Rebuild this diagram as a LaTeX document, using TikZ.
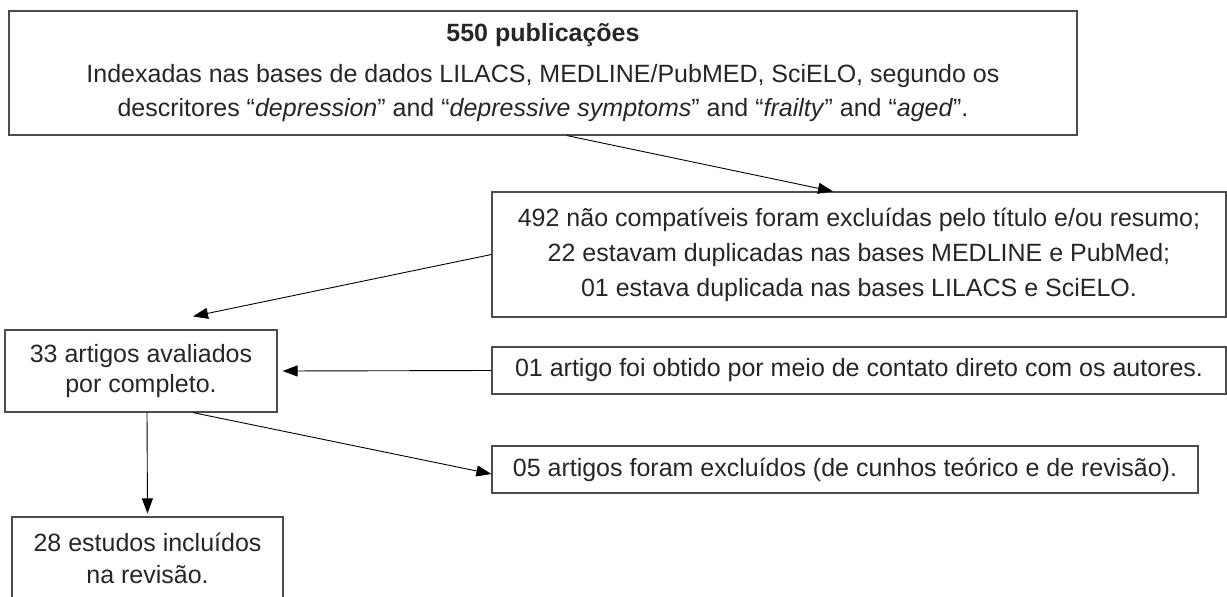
\documentclass[tikz,border=0pt]{standalone}
\usepackage{fontspec}
\setmainfont{Liberation Sans}
\usetikzlibrary{arrows.meta}

\begin{document}
\begin{tikzpicture}[x=1pt,y=-1pt,
            box/.style={shape=rectangle, draw=black!70, line width=1.2pt, align=center, inner sep=0pt, text=black!85, font=\fontsize{25}{34}\selectfont},
            arr/.style={draw=black, line width=0.9pt, -{Triangle[length=15pt,width=11pt]}}]
				\useasboundingbox (0,0) rectangle (1227,597);

				\node[box, minimum width=1068pt, minimum height=124pt] (pub) at (543,73)
					{{\bfseries 550 publicações}\\[7pt]
					Indexadas nas bases de dados LILACS, MEDLINE/PubMED, SciELO, segundo os\\
					descritores “\textit{depression}” and “\textit{depressive symptoms}” and “\textit{frailty}” and “\textit{aged}”.};
				\node[box, font=\fontsize{25}{35}\selectfont, minimum width=734pt, minimum height=125pt] (excl) at (859,254.5)
					{492 não compatíveis foram excluídas pelo título e/ou resumo;\\
					22 estavam duplicadas nas bases MEDLINE e PubMed;\\
					01 estava duplicada nas bases LILACS e SciELO.};
				\node[box, font=\fontsize{25}{30}\selectfont, minimum width=272pt, minimum height=82pt] (aval) at (141,371)
					{33 artigos avaliados\\ por completo.};
				\node[box, minimum width=734pt, minimum height=47pt] (contato) at (859,370.5)
					{01 artigo foi obtido por meio de contato direto com os autores.};
				\node[box, minimum width=706pt, minimum height=47pt] (teor) at (845,469.5)
					{05 artigos foram excluídos (de cunhos teórico e de revisão).};
				\node[box, font=\fontsize{25}{32}\selectfont, minimum width=271pt, minimum height=82pt] (incl) at (147.5,558)
					{28 estudos incluídos\\ na revisão.};

				\draw[arr] ([xshift=24pt]pub.south) -- ([xshift=-26pt]excl.north);
				\draw[arr] (excl.west) -- ([xshift=52pt,yshift=13pt]aval.north);
				\draw[arr] (contato.west) -- ([xshift=5pt]aval.east);
				\draw[arr] ([xshift=52pt]aval.south) -- ([yshift=-4.5pt]teor.west);
				\draw[arr] ([xshift=6pt]aval.south) -- ([yshift=3pt]incl.north);
\end{tikzpicture}
\end{document}
